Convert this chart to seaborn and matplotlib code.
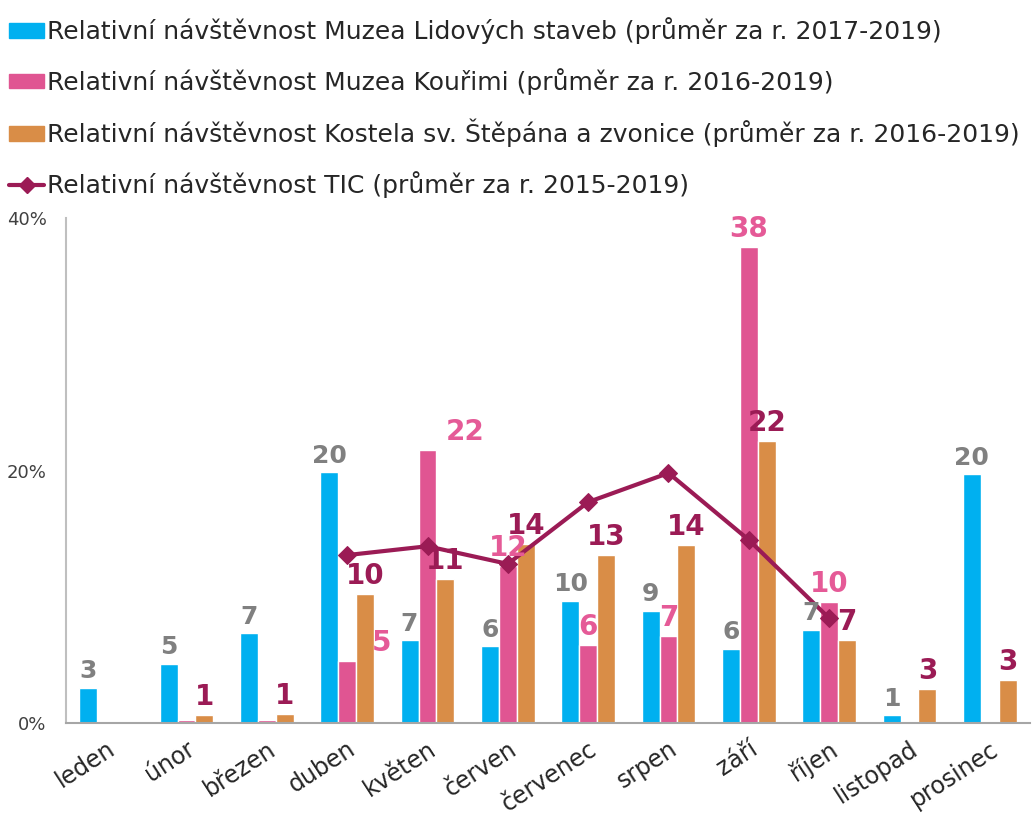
import pandas as pd
import matplotlib
matplotlib.use("Agg")
import matplotlib.pyplot as plt
import seaborn as sns
from matplotlib.patches import Patch
from matplotlib.lines import Line2D

# --- data (values in %) ---
mesice = ['leden', 'únor', 'březen', 'duben', 'květen', 'červen',
          'červenec', 'srpen', 'září', 'říjen', 'listopad', 'prosinec']
lidove_stavby = [2.8, 4.7, 7.1, 19.9, 6.6, 6.1, 9.7, 8.9, 5.9, 7.4, 0.65, 19.7]
muzeum_kourim = [0.0, 0.2, 0.2, 4.9, 21.6, 12.4, 6.2, 6.9, 37.7, 9.6, 0.1, 0.0]
kostel = [0.05, 0.6, 0.7, 10.2, 11.4, 14.2, 13.3, 14.1, 22.3, 6.6, 2.7, 3.4]
tic_mesice = ['duben', 'květen', 'červen', 'červenec', 'srpen', 'září', 'říjen']
tic = [13.3, 14.0, 12.6, 17.5, 19.8, 14.5, 8.3]

nazvy = ['Relativní návštěvnost Muzea Lidových staveb (průměr za r. 2017-2019)',
         'Relativní návštěvnost Muzea Kouřimi (průměr za r. 2016-2019)',
         'Relativní návštěvnost Kostela sv. Štěpána a zvonice (průměr za r. 2016-2019)',
         'Relativní návštěvnost TIC (průměr za r. 2015-2019)']

barvy = ['#00B0F0', '#E05592', '#D98D47']
barva_tic = '#9B1B55'
barvy_popisku = ['#808080', '#E55A97', '#9B1B55']

rows = []
for nazev, hodnoty in zip(nazvy[:3], [lidove_stavby, muzeum_kourim, kostel]):
    for m, v in zip(mesice, hodnoty):
        rows.append({'měsíc': m, 'série': nazev, 'hodnota': v})
df = pd.DataFrame(rows)

sns.set_style('white')
plt.rcParams['font.family'] = ['DejaVu Sans']

fig = plt.figure(figsize=(10.34, 8.16), dpi=100)
ax = fig.add_axes([66 / 1034, 1 - 723 / 816, 964 / 1034, 505 / 816])

sns.barplot(data=df, x='měsíc', y='hodnota', hue='série', order=mesice,
            hue_order=nazvy[:3], palette=barvy, width=0.67, gap=0,
            saturation=1, ax=ax, legend=False)

tic_x = [mesice.index(m) for m in tic_mesice]
sns.lineplot(x=tic_x, y=tic, color=barva_tic, linewidth=3, marker='D',
             markersize=9, markeredgecolor=barva_tic, ax=ax, zorder=5)

# data labels above bars
posuny = {(1, 'duben'): 34, (1, 'květen'): 38}  # horizontal shift in px
for i, cont in enumerate(ax.containers[:3]):
    for m, bar in zip(mesice, cont):
        v = bar.get_height()
        if round(v) < 1:
            continue
        dx = posuny.get((i, m), 0) * 72 / 100
        ax.annotate(f'{round(v)}', (bar.get_x() + bar.get_width() / 2, v),
                    xytext=(dx, 3), textcoords='offset points',
                    ha='center', va='bottom', fontweight='bold',
                    fontsize=18 if i == 0 else 20, color=barvy_popisku[i],
                    zorder=6)

ax.set_ylim(0, 40)
ax.set_xlim(-0.5, 11.5)
ax.set_yticks([0, 20, 40])
ax.set_yticklabels(['0%', '20%', '40%'], fontsize=13, color='#404040')
ax.tick_params(axis='y', length=0, pad=14)
ax.tick_params(axis='x', length=0, pad=10)
ax.set_xticks(range(len(mesice)))
ax.set_xticklabels(mesice, rotation=33, ha='right', rotation_mode='anchor',
                   fontsize=17, color='#262626')
ax.set_xlabel('')
ax.set_ylabel('')
for s in ['top', 'right']:
    ax.spines[s].set_visible(False)
ax.spines['left'].set_color('#BFBFBF')
ax.spines['bottom'].set_color('#A6A6A6')
ax.spines['left'].set_linewidth(1.5)
ax.spines['bottom'].set_linewidth(1.5)

handles = [Patch(facecolor=c, edgecolor=c) for c in barvy]
handles.append(Line2D([0], [0], color=barva_tic, linewidth=3, marker='D',
                      markersize=8))
fig.legend(handles, nazvy, loc='upper left',
           bbox_to_anchor=(-0.003, 1 - 5 / 816),
           frameon=False, fontsize=18, labelcolor='#262626',
           handlelength=1.4, handleheight=0.5, handletextpad=0.1,
           labelspacing=0.95, borderpad=0.3, borderaxespad=0.2)

fig.savefig('out.png', dpi=100)
